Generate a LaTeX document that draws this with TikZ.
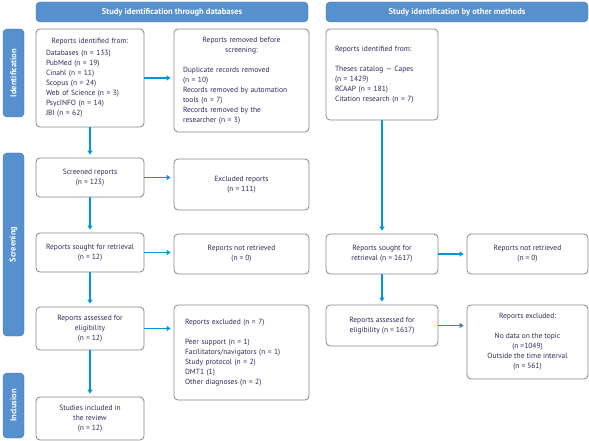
\documentclass[tikz,border=0pt]{standalone}
\usepackage{fontspec}
\setmainfont{PT Sans}
\usepackage{tikz}
\usepackage{xcolor}
\usetikzlibrary{arrows.meta}

\definecolor{headblue}{RGB}{86,144,206}
\definecolor{arrblue}{RGB}{0,150,219}
\definecolor{txtnavy}{RGB}{44,44,92}
\definecolor{boxgray}{RGB}{135,135,135}

\begin{document}
\begin{tikzpicture}[x=1pt,y=-1pt,
  box/.style={draw=boxgray,line width=0.8pt,rounded corners=4pt,fill=white,
    text=txtnavy,inner sep=0pt,font=\fontsize{7.5}{10}\selectfont},
  head/.style={draw=headblue!80!black,fill=headblue,rounded corners=4pt,
    text=white,inner sep=0pt,minimum height=20pt,font=\fontsize{8.5}{10}\selectfont\bfseries},
  tab/.style={draw=headblue!80!black,fill=headblue,rounded corners=4pt,rotate=90,
    text=white,inner sep=0pt,minimum height=21pt,font=\fontsize{8.5}{10}\selectfont\bfseries},
  arr/.style={draw=arrblue,line width=1.6pt,shorten >=3pt,
    -{Triangle[length=4pt,width=5pt]}}]
  \useasboundingbox (0,0) rectangle (589,441);

  % headers and side tabs
  \node[head,minimum width=272pt] (headDb) at (172,12) {Study identification through databases};
  \node[head,minimum width=262pt] (headOth) at (457,12) {Study identification by other methods};
  \node[tab,minimum width=88pt] (tabId) at (13.5,73) {Identification};
  \node[tab,minimum width=183pt] (tabScr) at (13.5,244.5) {Screening};
  \node[tab,minimum width=65pt] (tabInc) at (13.5,405.5) {Inclusion};

  % databases column
  \node[box,minimum width=108pt,minimum height=98pt,text width=88pt] (idDb) at (90,78)
    {{\centering Reports identified from:\par}\vspace{2pt}\raggedright
     Databases (n = 133)\\PubMed (n = 19)\\Cinahl (n = 11)\\Scopus (n = 24)\\
     Web of Science (n = 3)\\PsycINFO (n = 14)\\JBI (n = 62)};
  \node[box,minimum width=135pt,minimum height=103pt,text width=117pt] (remDb) at (241.5,80.5)
    {{\centering Reports removed before\\screening:\par}\vspace{10pt}\raggedright
     Duplicate records removed\\(n = 10)\\Records removed by automation\\tools (n = 7)\\
     Records removed by the\\researcher (n = 3)};
  \node[box,minimum width=108pt,minimum height=39pt,align=center] (scrDb) at (90,177.5)
    {Screened reports\\(n = 123)};
  \node[box,minimum width=135pt,minimum height=51pt,align=center] (exclDb) at (241.5,184.5)
    {Excluded reports\\(n = 111)};
  \node[box,minimum width=108pt,minimum height=39pt,align=center] (soughtDb) at (90,252.5)
    {Reports sought for retrieval\\(n = 12)};
  \node[box,minimum width=135pt,minimum height=40pt,align=center] (notDb) at (241.5,254)
    {Reports not retrieved\\(n = 0)};
  \node[box,minimum width=108pt,minimum height=43pt,align=center] (assDb) at (90,328.5)
    {Reports assessed for\\eligibility\\(n = 12)};
  \node[box,minimum width=135pt,minimum height=95pt,text width=113pt,align=left] (exclRsn) at (241.5,352.5)
    {Reports excluded (n = 7)\\[10pt]Peer support (n = 1)\\Facilitators/navigators (n = 1)\\
     Study protocol (n = 2)\\DMT1 (1)\\Other diagnoses (n = 2)};
  \node[box,minimum width=108pt,minimum height=43pt,align=center] (incl) at (90,418.5)
    {Studies included in\\the review\\(n = 12)};

  % other methods column
  \node[box,minimum width=112pt,minimum height=91pt,text width=94pt,align=left] (idOth) at (382,74.5)
    {Reports identified from:\\[10pt]Theses catalog --- Capes\\(n = 1429)\\RCAAP (n = 181)\\
     Citation research (n = 7)};
  \node[box,minimum width=112pt,minimum height=40pt,align=center] (soughtOth) at (382,254)
    {Reports sought for\\retrieval (n = 1617)};
  \node[box,minimum width=121pt,minimum height=40pt,align=center] (notOth) at (527.5,254)
    {Reports not retrieved\\(n = 0)};
  \node[box,minimum width=112pt,minimum height=41pt,align=center] (assOth) at (382,325.5)
    {Reports assessed for\\eligibility (n = 1617)};
  \node[box,minimum width=121pt,minimum height=74pt,align=center] (exclOth) at (527.5,342)
    {Reports excluded:\\[10pt]No data on the topic\\(n =1049)\\Outside the time interval\\(n = 561)};

  % arrows
  \foreach \a/\b in {idDb/scrDb,scrDb/soughtDb,soughtDb/assDb,assDb/incl,idOth/soughtOth,soughtOth/assOth} {
    \draw[arr] (\a.south) -- (\b.north);
  }
  \foreach \a/\b in {idDb/remDb,scrDb/exclDb,soughtDb/notDb,assDb/exclRsn,soughtOth/notOth,assOth/exclOth} {
    \draw[arr] (\a.east) -- (\a.east -| \b.west);
  }
\end{tikzpicture}
\end{document}
